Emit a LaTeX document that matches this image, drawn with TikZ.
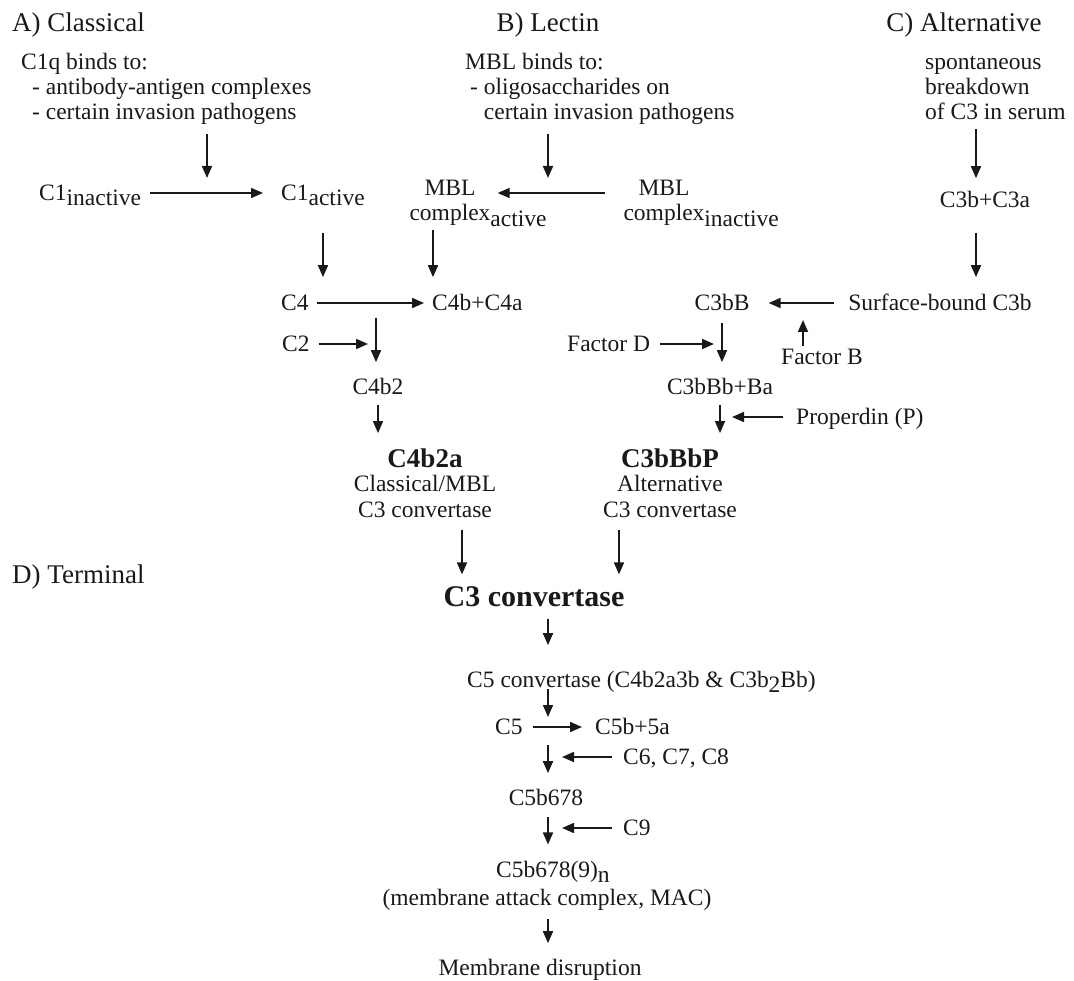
\documentclass[tikz,border=0pt]{standalone}
\usepackage{fontspec}
\setmainfont{Liberation Serif}
\usetikzlibrary{arrows.meta}
\newcommand\lowsub[1]{\raisebox{-0.22em}{#1}}
\tikzset{item/.style={inner sep=0pt, text height=21.4pt, text depth=5.9pt,
           font=\fontsize{23.5}{25}\selectfont},
         stack/.style={inner sep=0pt, align=#1, font=\fontsize{23.5}{25}\selectfont},
         stack/.default=center,
         head/.style={inner sep=0pt, text height=24.6pt, text depth=6.8pt,
           font=\fontsize{27}{30}\selectfont},
         big/.style={inner sep=0pt, text height=27.3pt, text depth=7.5pt,
           font=\fontsize{30}{34}\selectfont\bfseries},
         arr/.style={line width=1.7pt, -{Triangle[length=12pt,width=10pt]}}}

\begin{document}
\begin{tikzpicture}[x=1pt,y=-1pt,color=black!90]
  \useasboundingbox (0,0) rectangle (1074,981);

  \node[head,anchor=west] (hA) at (12,23) {A) Classical};
  \node[head] (hB) at (548,23) {B) Lectin};
  \node[head] (hC) at (964,23) {C) Alternative};
  \node[head,anchor=west] (hD) at (12,575) {D) Terminal};

  \node[stack=left,anchor=base west] (introA) at (21,120) {C1q binds to:\\\hspace*{11pt}- antibody-antigen complexes\\\hspace*{11pt}- certain invasion pathogens};
  \node[stack=left,anchor=base west] (introB) at (465,120) {MBL binds to:\\\hspace*{5pt}- oligosaccharides on\\\hspace*{5pt}\hphantom{- }certain invasion pathogens};
  \node[stack=left,anchor=base west] (introC) at (925,120) {spontaneous\\breakdown\\of C3 in serum};

  \node[item,anchor=west] (c1in) at (39,193) {C1\lowsub{inactive}};
  \node[item,anchor=west] (c1act) at (281,193) {C1\lowsub{active}};
  \node[stack,anchor=base] (mblact) at (450,221) {MBL\\complex\rlap{\lowsub{active}}};
  \node[stack,anchor=base] (mblin) at (664,221) {MBL\\complex\rlap{\lowsub{inactive}}};
  \node[item] (c3bc3a) at (985,200) {C3b+C3a};

  \node[item,anchor=west] (c4) at (281,303) {C4};
  \node[item,anchor=west] (c4bc4a) at (432,303) {C4b+C4a};
  \node[item] (c3bb) at (722,303) {C3bB};
  \node[item] (surf) at (940,303) {Surface-bound C3b};
  \node[item,anchor=west] (c2) at (282,344) {C2};
  \node[item,anchor=west] (factd) at (567,344) {Factor D};
  \node[item] (factb) at (822,357) {Factor B};
  \node[item] (c4b2) at (378,387) {C4b2};
  \node[item] (c3bbbba) at (720,387) {C3bBb+Ba};
  \node[item,anchor=west] (prop) at (796,417) {Properdin (P)};
  \node[stack,anchor=base] (c4b2a) at (425,517) {{\fontsize{27}{30}\selectfont\bfseries C4b2a}\\Classical/MBL\\C3 convertase};
  \node[stack,anchor=base] (c3bbbp) at (670,517) {{\fontsize{27}{30}\selectfont\bfseries C3bBbP}\\Alternative\\C3 convertase};
  \node[big] (c3conv) at (534,597) {C3 convertase};

  \node[item,anchor=west] (c5conv) at (467,680) {C5 convertase (C4b2a3b \& C3b\lowsub{2}Bb)};
  \node[item,anchor=west] (c5) at (495,727) {C5};
  \node[item,anchor=west] (c5b5a) at (595,727) {C5b+5a};
  \node[item,anchor=west] (c678) at (623,757) {C6, C7, C8};
  \node[item] (c5b678) at (546,798) {C5b678};
  \node[item,anchor=west] (c9) at (623,828) {C9};
  \node[stack,anchor=base] (mac) at (547,905) {C5b678(9)\rlap{\lowsub{n}}\\[3pt](membrane attack complex, MAC)};
  \node[item] (memb) at (540,968) {Membrane disruption};

  \coordinate (joinA) at (207,193);
  \coordinate (joinB) at (548,193);
  \coordinate (colB) at (433,0);
  \coordinate (colC) at (976,0);
  \coordinate (c4j) at (376,303);
  \coordinate (fbj) at (803,303);
  \coordinate (colL) at (462,0);
  \coordinate (colR) at (619,0);
  \coordinate (c5j) at (548,727);

  \draw[arr, shorten <=9pt, shorten >=15pt] (introA.south -| joinA) -- (joinA);
  \draw[arr, shorten <=9pt, shorten >=15pt] (introB.south -| joinB) -- (joinB);
  \draw[arr, shorten <=9pt, shorten >=8pt] (introC.south -| colC) -- (c3bc3a.north -| colC);
  \draw[arr, shorten <=9pt, shorten >=18pt] (c1in) -- (c1act);
  \draw[arr, shorten <=18pt, shorten >=7pt] (mblin.west |- joinB) -- (mblact.east |- joinB);
  \draw[arr, shorten <=26pt, shorten >=12pt] (c1act.south) -- (c1act.south |- c4.north);
  \draw[arr, shorten <=3pt, shorten >=12pt] (mblact.south -| colB) -- (c4bc4a.north -| colB);
  \draw[arr, shorten <=19pt, shorten >=12pt] (c3bc3a.south -| colC) -- (surf.north -| colC);
  \draw[arr, shorten <=8pt, shorten >=8pt] (c4) -- (c4bc4a);
  \draw[arr, shorten <=14pt, shorten >=19pt] (surf) -- (c3bb);
  \draw[arr, shorten <=15pt, shorten >=11pt] (c4j) -- (c4j |- c4b2.north);
  \draw[arr, shorten <=9pt, shorten >=8pt] (c2) -- (c2 -| c4j);
  \draw[arr, shorten <=6pt, shorten >=11pt] (c3bb.south) -- (c3bb.south |- c3bbbba.north);
  \draw[arr, shorten <=10pt, shorten >=8pt] (factd) -- (factd -| c3bb);
  \draw[arr, shorten <=-3pt, shorten >=17pt] (factb.north -| fbj) -- (fbj);
  \draw[arr, shorten <=4pt, shorten >=15pt] (c4b2.south) -- (c4b2.south |- c4b2a.north);
  \draw[arr, shorten <=4pt, shorten >=15pt] (c3bbbba.south) -- (c3bbbba.south |- c3bbbp.north);
  \draw[arr, shorten <=13pt, shorten >=12pt] (prop.west) -- (prop.west -| c3bbbba.south);
  \draw[arr, shorten <=13pt, shorten >=5pt] (c4b2a.south -| colL) -- (c3conv.north -| colL);
  \draw[arr, shorten <=13pt, shorten >=5pt] (c3bbbp.south -| colR) -- (c3conv.north -| colR);
  \draw[arr, shorten <=4pt, shorten >=21pt] (c3conv.south -| c5j) -- (c5conv.north -| c5j);
  \draw[arr, shorten <=-5pt, shorten >=10pt] (c5conv.south -| c5j) -- (c5j);
  \draw[arr, shorten <=10pt, shorten >=13pt] (c5) -- (c5b5a);
  \draw[arr, shorten <=18pt, shorten >=11pt] (c5j) -- (c5j |- c5b678.north);
  \draw[arr, shorten <=11pt, shorten >=14pt] (c678.west) -- (c678.west -| c5j);
  \draw[arr, shorten <=5pt, shorten >=16pt] (c5b678.south -| c5j) -- (mac.north -| c5j);
  \draw[arr, shorten <=11pt, shorten >=14pt] (c9.west) -- (c9.west -| c5j);
  \draw[arr, shorten <=9pt, shorten >=11pt] (mac.south -| c5j) -- (memb.north -| c5j);
\end{tikzpicture}
\end{document}
